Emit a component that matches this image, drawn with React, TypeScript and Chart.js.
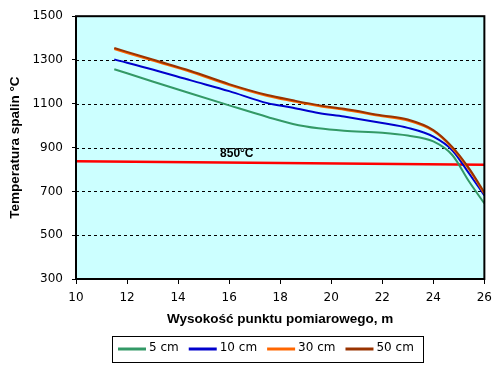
import React, { useEffect, useRef } from 'react';
import { Chart, registerables } from 'chart.js';

Chart.register(...registerables);

// Measurement heights (m)
const heights = [11.5, 13, 14.5, 16, 17.5, 18.5, 19.5, 20.5, 22, 23, 24, 24.75, 25.4, 26];
// Flue gas temperatures (°C) per distance from wall
const temp5cm = [1258, 1202, 1147, 1093, 1040, 1008, 988, 977, 968, 955, 928, 865, 745, 645];
const temp10cm = [1303, 1257, 1207, 1158, 1103, 1082, 1058, 1042, 1012, 990, 950, 887, 782, 682];
const temp30cm = [1350, 1297, 1245, 1186, 1136, 1112, 1090, 1073, 1043, 1024, 976, 897, 800, 690];
const temp50cm = [1355, 1302, 1250, 1190, 1140, 1116, 1094, 1077, 1047, 1028, 980, 902, 805, 695];
const seriesLabels = ['5 cm', '10 cm', '30 cm', '50 cm'];
const seriesColors = ['#339966', '#0000CC', '#FF6600', '#993300'];

// 850 °C reference line
const limitX = [10, 26];
const limitY = [838, 822];
const limitLabel = '850°C';
const limitLabelPos = [16.3, 871];

const yMin = 300;
const yMax = 1500;
const yStep = 200;
const xMin = 10;
const xMax = 26;
const xStep = 2;

const xTitle = 'Wysokość punktu pomiarowego, m';
const yTitle = 'Temperatura spalin °C';

const toPoints = (xs: number[], ys: number[]) => xs.map((x, i) => ({ x, y: ys[i] }));

const decorPlugin = {
  id: 'decor',
  beforeDraw(chart: any) {
    const { ctx, chartArea: a } = chart;
    ctx.save();
    ctx.fillStyle = '#CCFFFF';
    ctx.fillRect(a.left, a.top, a.right - a.left, a.bottom - a.top);
    ctx.restore();
  },
  beforeDatasetsDraw(chart: any) {
    const { ctx, chartArea: a } = chart;
    const ys = chart.scales.y;
    ctx.save();
    ctx.strokeStyle = '#000';
    ctx.lineWidth = 1;
    ctx.setLineDash([3, 3]);
    ys.ticks.forEach((t: any) => {
      const py = Math.round(ys.getPixelForValue(t.value)) + 0.5;
      ctx.beginPath();
      ctx.moveTo(a.left, py);
      ctx.lineTo(a.right, py);
      ctx.stroke();
    });
    ctx.restore();
  },
  afterDraw(chart: any) {
    const { ctx, chartArea: a } = chart;
    ctx.save();
    // plot border
    ctx.strokeStyle = '#000';
    ctx.lineWidth = 2;
    ctx.setLineDash([]);
    ctx.strokeRect(a.left, a.top, a.right - a.left, a.bottom - a.top);

    // reference line label
    const lx = chart.scales.x.getPixelForValue(limitLabelPos[0]);
    const ly = chart.scales.y.getPixelForValue(limitLabelPos[1]);
    ctx.font = 'bold 12px "Liberation Sans", Arial, sans-serif';
    ctx.fillStyle = '#000';
    ctx.textAlign = 'center';
    ctx.textBaseline = 'middle';
    ctx.fillText(limitLabel, lx, ly);

    // legend
    const items = chart.data.datasets.filter((d: any) => seriesLabels.includes(d.label));
    ctx.font = '12px "DejaVu Sans", sans-serif';
    const lineW = 28;
    const gap = 3;
    const itemGap = 10;
    const padL = 6;
    const padR = 9;
    const widths = items.map((d: any) => lineW + gap + ctx.measureText(d.label).width);
    const total = padL + padR + widths.reduce((s: number, w: number) => s + w, 0) + itemGap * (items.length - 1);
    const centerX = 267.5;
    const boxTop = 336;
    const boxH = 26;
    const left = Math.round(centerX - total / 2);
    ctx.lineWidth = 1;
    ctx.strokeStyle = '#000';
    ctx.strokeRect(left + 0.5, boxTop + 0.5, Math.round(total), boxH);
    let x = left + padL;
    const cy = boxTop + 13;
    items.forEach((d: any, i: number) => {
      ctx.strokeStyle = d.borderColor;
      ctx.lineWidth = 3;
      ctx.beginPath();
      ctx.moveTo(x, cy);
      ctx.lineTo(x + lineW, cy);
      ctx.stroke();
      ctx.fillStyle = '#000';
      ctx.textAlign = 'left';
      ctx.textBaseline = 'middle';
      ctx.fillText(d.label, x + lineW + gap, cy - 1);
      x += widths[i] + itemGap;
    });
    ctx.restore();
  },
};

export default function App() {
  const canvasRef = useRef<HTMLCanvasElement | null>(null);

  useEffect(() => {
    if (!canvasRef.current) return;
    const series = [temp5cm, temp10cm, temp30cm, temp50cm];
    const datasets: any[] = series.map((vals, i) => ({
      label: seriesLabels[i],
      data: toPoints(heights, vals),
      borderColor: seriesColors[i],
      backgroundColor: seriesColors[i],
      borderWidth: 2,
      pointRadius: 0,
      cubicInterpolationMode: 'monotone',
      fill: false,
      order: 3 - i,
    }));
    datasets.push({
      label: '850',
      data: toPoints(limitX, limitY),
      borderColor: '#FF0000',
      backgroundColor: '#FF0000',
      borderWidth: 2.5,
      pointRadius: 0,
      fill: false,
      order: 4,
    });

    const tickFont = { family: '"DejaVu Sans", sans-serif', size: 12 };
    const titleFont = { family: '"Liberation Sans", Arial, sans-serif', size: 13.5, weight: 'bold' as const };

    const chart = new Chart(canvasRef.current, {
      type: 'line',
      data: { datasets },
      options: {
        animation: false,
        responsive: false,
        devicePixelRatio: 1,
        layout: { padding: { top: 12, right: 10, left: 0, bottom: 33 } },
        plugins: {
          legend: { display: false },
          tooltip: { enabled: false },
        },
        scales: {
          x: {
            type: 'linear',
            min: xMin,
            max: xMax,
            ticks: { stepSize: xStep, font: tickFont, color: '#000', padding: 7, maxRotation: 0, callback: (v: any) => String(v) },
            grid: { drawOnChartArea: false, drawTicks: true, tickLength: 5, tickColor: '#000', color: '#000' },
            border: { display: false },
            title: { display: true, text: xTitle, font: titleFont, color: '#000', padding: { top: 0, bottom: 6 } },
            afterFit: (s: any) => { s.height = 54; },
          },
          y: {
            type: 'linear',
            min: yMin,
            max: yMax,
            ticks: { stepSize: yStep, font: tickFont, color: '#000', padding: 9, callback: (v: any) => String(v) },
            grid: { drawOnChartArea: false, color: '#000', lineWidth: 1, drawTicks: true, tickLength: 4, tickColor: '#000' },
            border: { display: false },
            title: { display: true, text: yTitle, font: titleFont, color: '#000', padding: { top: 7, bottom: 0 } },
            afterFit: (s: any) => { s.width = 76; },
          },
        },
      },
      plugins: [decorPlugin],
    });
    return () => chart.destroy();
  }, []);

  return (
    <div style={{ position: 'absolute', left: 0, top: 0, width: 499, height: 366, background: '#fff' }}>
      <canvas ref={canvasRef} width={499} height={366} />
    </div>
  );
}
